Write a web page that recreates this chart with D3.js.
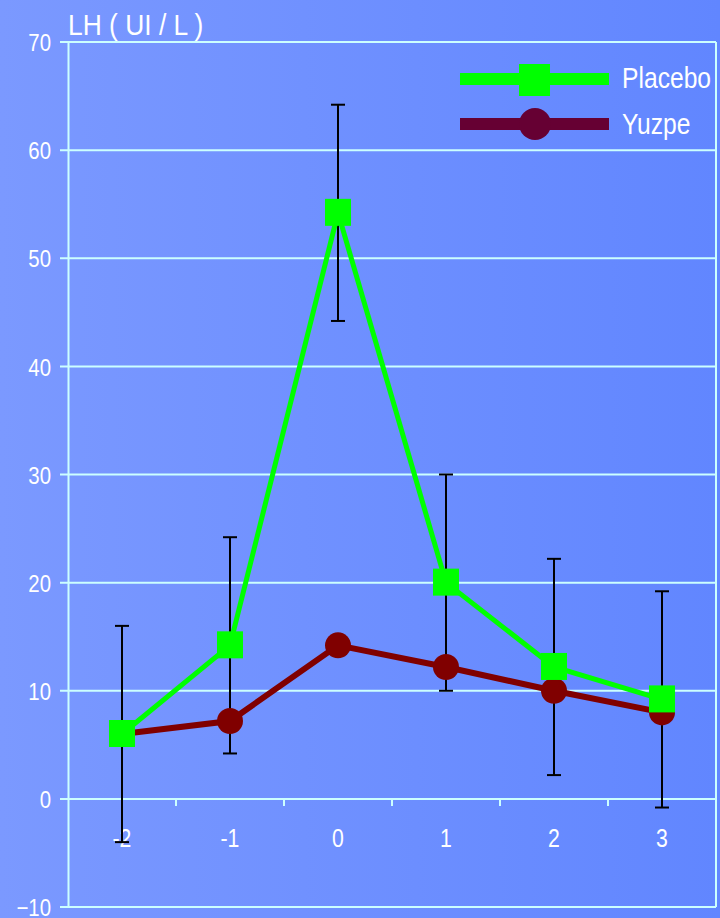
<!DOCTYPE html>
<meta charset="utf-8">
<style>
    body { margin: 0; }
    svg { display: block; font-family: "Liberation Sans", Arial, sans-serif; }
    .grid line { stroke: #ccffff; stroke-width: 2; }
    .tick text { fill: #fff; }
</style>
<svg width="720" height="918"></svg>
<script src="https://d3js.org/d3.v7.min.js"></script>
<script>

    var days = ["-2", "-1", "0", "1", "2", "3"];
    var placebo = [6, 14.2, 54.2, 20, 12.2, 9.2];
    var yuzpe = [6, 7.2, 14.2, 12.2, 10, 8];
    var placeboErr = [10, 10, 10, 10, 10, 10];
    var yTicks = [-10, 0, 10, 20, 30, 40, 50, 60, 70];

    var svg = d3.select("svg"),
        width = +svg.attr("width"),
        height = +svg.attr("height");

    var plotLeft = 68, plotRight = 716, plotTop = 42, plotBottom = 907;

    // background gradient, lighter on the left
    var defs = svg.append("defs");
    var grad = defs.append("linearGradient").attr("id", "bg")
        .attr("x1", "0%").attr("x2", "100%").attr("y1", "0%").attr("y2", "0%");
    grad.append("stop").attr("offset", "0%").attr("stop-color", "#7b99ff");
    grad.append("stop").attr("offset", "100%").attr("stop-color", "#6186ff");
    svg.append("rect").attr("width", width).attr("height", height).attr("fill", "url(#bg)");

    var x = d3.scaleBand()
        .domain(days)
        .range([plotLeft, plotRight]);

    var y = d3.scaleLinear()
        .domain([-10, 70])
        .range([plotBottom, plotTop]);

    // horizontal grid lines
    svg.append("g")
        .attr("class", "grid")
        .selectAll("line")
        .data(yTicks)
        .enter().append("line")
        .attr("x1", plotLeft - 8)
        .attr("x2", plotRight)
        .attr("y1", function (d) { return y(d); })
        .attr("y2", function (d) { return y(d); });

    // y axis
    var yAxis = svg.append("g")
        .attr("transform", "translate(" + plotLeft + ",0)")
        .call(d3.axisLeft(y).tickValues(yTicks).tickSize(0).tickPadding(17));
    yAxis.select(".domain").attr("stroke", "#ccffff").attr("stroke-width", 2);
    yAxis.selectAll("text").attr("font-size", 24).attr("dy", "0.36em");

    // right border
    svg.append("line")
        .attr("x1", plotRight).attr("x2", plotRight)
        .attr("y1", plotTop).attr("y2", plotBottom)
        .attr("stroke", "#ccffff").attr("stroke-width", 2);

    // x axis sits on the zero line, ticks between categories
    var xg = svg.append("g")
        .attr("transform", "translate(0," + y(0) + ")");
    xg.selectAll("line")
        .data(days.slice(1))
        .enter().append("line")
        .attr("x1", function (d) { return x(d); })
        .attr("x2", function (d) { return x(d); })
        .attr("y1", 0).attr("y2", 7)
        .attr("stroke", "#ccffff").attr("stroke-width", 2);
    xg.selectAll("text")
        .data(days)
        .enter().append("text")
        .attr("x", function (d) { return x(d) + x.bandwidth() / 2; })
        .attr("y", 48)
        .attr("text-anchor", "middle")
        .attr("fill", "#fff")
        .attr("font-size", 25)
        .text(function (d) { return d; });

    svg.append("text")
        .attr("class", "title")
        .attr("x", 68).attr("y", 35)
        .attr("fill", "#fff")
        .attr("font-size", 29)
        .text("LH ( UI / L )");

    var cx = function (d, i) { return x(days[i]) + x.bandwidth() / 2; };

    // error bars on placebo
    var eb = svg.append("g").attr("stroke", "#000").attr("stroke-width", 2);
    placebo.forEach(function (v, i) {
        var px = cx(v, i);
        var hi = y(v + placeboErr[i]), lo = y(v - placeboErr[i]);
        eb.append("line").attr("x1", px).attr("x2", px).attr("y1", hi).attr("y2", lo);
        eb.append("line").attr("x1", px - 7).attr("x2", px + 7).attr("y1", hi).attr("y2", hi);
        eb.append("line").attr("x1", px - 7).attr("x2", px + 7).attr("y1", lo).attr("y2", lo);
    });

    var line = d3.line()
        .x(cx)
        .y(function (d) { return y(d); });

    // yuzpe
    svg.append("path")
        .datum(yuzpe)
        .attr("d", line)
        .attr("fill", "none")
        .attr("stroke", "#800000")
        .attr("stroke-width", 6);
    svg.append("g").selectAll("circle")
        .data(yuzpe)
        .enter().append("circle")
        .attr("cx", cx)
        .attr("cy", function (d) { return y(d); })
        .attr("r", 13)
        .attr("fill", "#800000");

    // placebo
    svg.append("path")
        .datum(placebo)
        .attr("d", line)
        .attr("fill", "none")
        .attr("stroke", "#00ff00")
        .attr("stroke-width", 5);
    svg.append("g").selectAll("rect")
        .data(placebo)
        .enter().append("rect")
        .attr("x", function (d, i) { return cx(d, i) - 13; })
        .attr("y", function (d) { return y(d) - 14; })
        .attr("width", 26)
        .attr("height", 27)
        .attr("fill", "#00ff00");

    // legend
    var lg = svg.append("g");
    lg.append("line").attr("x1", 460).attr("x2", 609).attr("y1", 79).attr("y2", 79)
        .attr("stroke", "#00ff00").attr("stroke-width", 12);
    lg.append("rect").attr("x", 519).attr("y", 64).attr("width", 31).attr("height", 32)
        .attr("fill", "#00ff00");
    lg.append("text").attr("x", 622).attr("y", 88).attr("fill", "#fff")
        .attr("font-size", 29).text("Placebo");
    lg.append("line").attr("x1", 460).attr("x2", 609).attr("y1", 124).attr("y2", 124)
        .attr("stroke", "#660033").attr("stroke-width", 12);
    lg.append("circle").attr("cx", 535).attr("cy", 124).attr("r", 16)
        .attr("fill", "#660033");
    lg.append("text").attr("x", 622).attr("y", 134).attr("fill", "#fff")
        .attr("font-size", 29).text("Yuzpe");

    // the original font is a narrow one: squeeze every label horizontally
    svg.selectAll("text").each(function () {
        var w = this.getComputedTextLength();
        var k = d3.select(this).classed("title") ? 0.91 : 0.85;
        d3.select(this).attr("textLength", w * k).attr("lengthAdjust", "spacingAndGlyphs");
    });

</script>
